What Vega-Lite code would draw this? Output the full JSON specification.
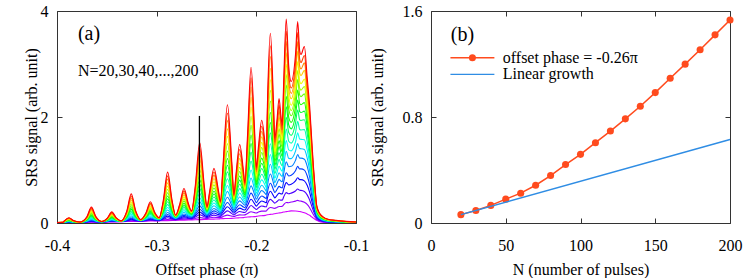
{
"$schema":"https://vega.github.io/schema/vega-lite/v6.json",
"background":"white",
"padding":{"left":22,"top":2,"right":0,"bottom":0},
"spacing":75,
"bounds":"flush",
"config":{
 "font":"Liberation Serif",
 "view":{"stroke":"#333","strokeWidth":1},
 "axis":{"labelFont":"Liberation Serif","titleFont":"Liberation Serif","labelFontSize":16,"titleFontSize":16,"titleFontWeight":"normal","labelColor":"#000","titleColor":"#000","tickSize":-5,"tickColor":"#333","tickWidth":1,"domain":false,"grid":false,"labelPadding":14,"labelFlush":false,"labelOverlap":false},
 "axisBottom":{"labelPadding":19},
 "text":{"font":"Liberation Serif","color":"#000"}
},
"datasets":{
"spectra":[
{"x":-0.4,"n20":0.005,"n30":0.005,"n40":0.006,"n50":0.006,"n60":0.006,"n70":0.007,"n80":0.007,"n90":0.007,"n100":0.008,"n110":0.008,"n120":0.008,"n130":0.008,"n140":0.009,"n150":0.009,"n160":0.009,"n170":0.009,"n180":0.01,"n190":0.01,"n200":0.01},
{"x":-0.394,"n20":0.007,"n30":0.007,"n40":0.007,"n50":0.008,"n60":0.008,"n70":0.008,"n80":0.009,"n90":0.009,"n100":0.009,"n110":0.01,"n120":0.01,"n130":0.01,"n140":0.01,"n150":0.011,"n160":0.011,"n170":0.011,"n180":0.011,"n190":0.012,"n200":0.012},
{"x":-0.3925,"n20":0.007,"n30":0.008,"n40":0.009,"n50":0.011,"n60":0.012,"n70":0.014,"n80":0.016,"n90":0.017,"n100":0.02,"n110":0.022,"n120":0.024,"n130":0.026,"n140":0.028,"n150":0.031,"n160":0.033,"n170":0.035,"n180":0.038,"n190":0.04,"n200":0.043},
{"x":-0.388,"n20":0.008,"n30":0.01,"n40":0.013,"n50":0.016,"n60":0.019,"n70":0.023,"n80":0.028,"n90":0.032,"n100":0.038,"n110":0.043,"n120":0.049,"n130":0.054,"n140":0.061,"n150":0.067,"n160":0.073,"n170":0.079,"n180":0.087,"n190":0.093,"n200":0.1},
{"x":-0.3835,"n20":0.009,"n30":0.01,"n40":0.011,"n50":0.013,"n60":0.014,"n70":0.016,"n80":0.018,"n90":0.019,"n100":0.022,"n110":0.024,"n120":0.026,"n130":0.028,"n140":0.03,"n150":0.033,"n160":0.035,"n170":0.037,"n180":0.04,"n190":0.042,"n200":0.045},
{"x":-0.377,"n20":0.011,"n30":0.012,"n40":0.012,"n50":0.013,"n60":0.013,"n70":0.014,"n80":0.014,"n90":0.014,"n100":0.015,"n110":0.015,"n120":0.015,"n130":0.016,"n140":0.016,"n150":0.016,"n160":0.017,"n170":0.017,"n180":0.017,"n190":0.018,"n200":0.018},
{"x":-0.37,"n20":0.013,"n30":0.016,"n40":0.019,"n50":0.023,"n60":0.026,"n70":0.031,"n80":0.036,"n90":0.042,"n100":0.048,"n110":0.054,"n120":0.061,"n130":0.067,"n140":0.074,"n150":0.081,"n160":0.088,"n170":0.096,"n180":0.104,"n190":0.111,"n200":0.119},
{"x":-0.3655,"n20":0.014,"n30":0.02,"n40":0.029,"n50":0.038,"n60":0.047,"n70":0.059,"n80":0.073,"n90":0.088,"n100":0.105,"n110":0.122,"n120":0.139,"n130":0.156,"n140":0.176,"n150":0.196,"n160":0.215,"n170":0.235,"n180":0.258,"n190":0.277,"n200":0.3},
{"x":-0.361,"n20":0.015,"n30":0.018,"n40":0.021,"n50":0.025,"n60":0.028,"n70":0.033,"n80":0.038,"n90":0.044,"n100":0.05,"n110":0.056,"n120":0.063,"n130":0.069,"n140":0.076,"n150":0.083,"n160":0.09,"n170":0.098,"n180":0.106,"n190":0.113,"n200":0.121},
{"x":-0.355,"n20":0.018,"n30":0.019,"n40":0.019,"n50":0.02,"n60":0.021,"n70":0.022,"n80":0.022,"n90":0.023,"n100":0.023,"n110":0.024,"n120":0.024,"n130":0.025,"n140":0.025,"n150":0.026,"n160":0.026,"n170":0.027,"n180":0.027,"n190":0.028,"n200":0.028},
{"x":-0.3495,"n20":0.02,"n30":0.022,"n40":0.025,"n50":0.028,"n60":0.03,"n70":0.034,"n80":0.037,"n90":0.041,"n100":0.046,"n110":0.05,"n120":0.054,"n130":0.059,"n140":0.064,"n150":0.069,"n160":0.073,"n170":0.078,"n180":0.084,"n190":0.088,"n200":0.094},
{"x":-0.345,"n20":0.021,"n30":0.025,"n40":0.032,"n50":0.038,"n60":0.044,"n70":0.052,"n80":0.061,"n90":0.071,"n100":0.082,"n110":0.094,"n120":0.105,"n130":0.116,"n140":0.129,"n150":0.142,"n160":0.155,"n170":0.168,"n180":0.182,"n190":0.195,"n200":0.21},
{"x":-0.3405,"n20":0.022,"n30":0.024,"n40":0.027,"n50":0.03,"n60":0.032,"n70":0.036,"n80":0.04,"n90":0.043,"n100":0.048,"n110":0.052,"n120":0.057,"n130":0.061,"n140":0.066,"n150":0.071,"n160":0.075,"n170":0.08,"n180":0.086,"n190":0.091,"n200":0.096},
{"x":-0.3355,"n20":0.025,"n30":0.026,"n40":0.027,"n50":0.028,"n60":0.029,"n70":0.03,"n80":0.031,"n90":0.032,"n100":0.033,"n110":0.034,"n120":0.035,"n130":0.035,"n140":0.036,"n150":0.037,"n160":0.037,"n170":0.038,"n180":0.039,"n190":0.039,"n200":0.04},
{"x":-0.33,"n20":0.027,"n30":0.032,"n40":0.039,"n50":0.045,"n60":0.052,"n70":0.061,"n80":0.071,"n90":0.081,"n100":0.092,"n110":0.104,"n120":0.116,"n130":0.127,"n140":0.141,"n150":0.154,"n160":0.167,"n170":0.18,"n180":0.195,"n190":0.208,"n200":0.223},
{"x":-0.3255,"n20":0.029,"n30":0.041,"n40":0.057,"n50":0.074,"n60":0.09,"n70":0.112,"n80":0.138,"n90":0.164,"n100":0.196,"n110":0.227,"n120":0.258,"n130":0.289,"n140":0.325,"n150":0.361,"n160":0.397,"n170":0.433,"n180":0.473,"n190":0.509,"n200":0.55},
{"x":-0.321,"n20":0.03,"n30":0.035,"n40":0.042,"n50":0.049,"n60":0.056,"n70":0.065,"n80":0.075,"n90":0.086,"n100":0.097,"n110":0.109,"n120":0.121,"n130":0.133,"n140":0.146,"n150":0.159,"n160":0.172,"n170":0.186,"n180":0.201,"n190":0.214,"n200":0.229},
{"x":-0.316,"n20":0.033,"n30":0.035,"n40":0.037,"n50":0.04,"n60":0.042,"n70":0.044,"n80":0.046,"n90":0.048,"n100":0.05,"n110":0.052,"n120":0.053,"n130":0.055,"n140":0.057,"n150":0.058,"n160":0.059,"n170":0.061,"n180":0.062,"n190":0.063,"n200":0.065},
{"x":-0.3108,"n20":0.036,"n30":0.041,"n40":0.047,"n50":0.054,"n60":0.06,"n70":0.067,"n80":0.075,"n90":0.083,"n100":0.092,"n110":0.102,"n120":0.11,"n130":0.119,"n140":0.129,"n150":0.139,"n160":0.148,"n170":0.158,"n180":0.169,"n190":0.178,"n200":0.189},
{"x":-0.3063,"n20":0.037,"n30":0.047,"n40":0.059,"n50":0.072,"n60":0.085,"n70":0.1,"n80":0.119,"n90":0.138,"n100":0.16,"n110":0.181,"n120":0.203,"n130":0.224,"n140":0.248,"n150":0.272,"n160":0.297,"n170":0.321,"n180":0.348,"n190":0.372,"n200":0.4},
{"x":-0.3018,"n20":0.039,"n30":0.045,"n40":0.051,"n50":0.058,"n60":0.065,"n70":0.073,"n80":0.081,"n90":0.089,"n100":0.099,"n110":0.108,"n120":0.117,"n130":0.126,"n140":0.136,"n150":0.146,"n160":0.156,"n170":0.166,"n180":0.176,"n190":0.186,"n200":0.197},
{"x":-0.2975,"n20":0.041,"n30":0.045,"n40":0.049,"n50":0.053,"n60":0.058,"n70":0.062,"n80":0.065,"n90":0.069,"n100":0.072,"n110":0.076,"n120":0.079,"n130":0.082,"n140":0.085,"n150":0.087,"n160":0.089,"n170":0.092,"n180":0.095,"n190":0.097,"n200":0.1},
{"x":-0.2935,"n20":0.044,"n30":0.055,"n40":0.069,"n50":0.083,"n60":0.097,"n70":0.113,"n80":0.132,"n90":0.151,"n100":0.173,"n110":0.195,"n120":0.217,"n130":0.238,"n140":0.262,"n150":0.285,"n160":0.309,"n170":0.333,"n180":0.359,"n190":0.383,"n200":0.41},
{"x":-0.289,"n20":0.045,"n30":0.067,"n40":0.098,"n50":0.129,"n60":0.159,"n70":0.199,"n80":0.245,"n90":0.292,"n100":0.346,"n110":0.401,"n120":0.455,"n130":0.51,"n140":0.572,"n150":0.634,"n160":0.695,"n170":0.758,"n180":0.828,"n190":0.889,"n200":0.96},
{"x":-0.2845,"n20":0.047,"n30":0.059,"n40":0.074,"n50":0.089,"n60":0.103,"n70":0.121,"n80":0.141,"n90":0.161,"n100":0.183,"n110":0.206,"n120":0.228,"n130":0.249,"n140":0.274,"n150":0.298,"n160":0.322,"n170":0.346,"n180":0.373,"n190":0.397,"n200":0.424},
{"x":-0.281,"n20":0.05,"n30":0.057,"n40":0.064,"n50":0.071,"n60":0.078,"n70":0.085,"n80":0.091,"n90":0.097,"n100":0.103,"n110":0.109,"n120":0.114,"n130":0.119,"n140":0.124,"n150":0.128,"n160":0.132,"n170":0.137,"n180":0.141,"n190":0.145,"n200":0.15},
{"x":-0.2771,"n20":0.053,"n30":0.065,"n40":0.078,"n50":0.092,"n60":0.105,"n70":0.121,"n80":0.136,"n90":0.152,"n100":0.169,"n110":0.186,"n120":0.202,"n130":0.218,"n140":0.235,"n150":0.252,"n160":0.268,"n170":0.286,"n180":0.304,"n190":0.32,"n200":0.339},
{"x":-0.2726,"n20":0.054,"n30":0.073,"n40":0.096,"n50":0.12,"n60":0.143,"n70":0.171,"n80":0.202,"n90":0.233,"n100":0.269,"n110":0.305,"n120":0.339,"n130":0.374,"n140":0.413,"n150":0.45,"n160":0.488,"n170":0.527,"n180":0.569,"n190":0.607,"n200":0.65},
{"x":-0.2681,"n20":0.056,"n30":0.07,"n40":0.085,"n50":0.1,"n60":0.116,"n70":0.133,"n80":0.149,"n90":0.166,"n100":0.185,"n110":0.203,"n120":0.22,"n130":0.237,"n140":0.255,"n150":0.272,"n160":0.289,"n170":0.308,"n180":0.326,"n190":0.343,"n200":0.363},
{"x":-0.265,"n20":0.059,"n30":0.071,"n40":0.083,"n50":0.095,"n60":0.107,"n70":0.119,"n80":0.129,"n90":0.139,"n100":0.15,"n110":0.16,"n120":0.168,"n130":0.177,"n140":0.186,"n150":0.192,"n160":0.199,"n170":0.208,"n180":0.215,"n190":0.221,"n200":0.23},
{"x":-0.2613,"n20":0.062,"n30":0.084,"n40":0.111,"n50":0.138,"n60":0.165,"n70":0.196,"n80":0.229,"n90":0.263,"n100":0.301,"n110":0.339,"n120":0.375,"n130":0.411,"n140":0.451,"n150":0.489,"n160":0.528,"n170":0.568,"n180":0.611,"n190":0.649,"n200":0.694},
{"x":-0.2568,"n20":0.064,"n30":0.104,"n40":0.156,"n50":0.208,"n60":0.26,"n70":0.324,"n80":0.399,"n90":0.474,"n100":0.561,"n110":0.648,"n120":0.734,"n130":0.819,"n140":0.917,"n150":1.012,"n160":1.108,"n170":1.206,"n180":1.314,"n190":1.41,"n200":1.52},
{"x":-0.2523,"n20":0.066,"n30":0.09,"n40":0.119,"n50":0.147,"n60":0.176,"n70":0.209,"n80":0.244,"n90":0.279,"n100":0.318,"n110":0.357,"n120":0.394,"n130":0.431,"n140":0.472,"n150":0.511,"n160":0.551,"n170":0.592,"n180":0.635,"n190":0.674,"n200":0.72},
{"x":-0.2495,"n20":0.069,"n30":0.086,"n40":0.103,"n50":0.12,"n60":0.136,"n70":0.153,"n80":0.168,"n90":0.182,"n100":0.197,"n110":0.211,"n120":0.223,"n130":0.235,"n140":0.247,"n150":0.257,"n160":0.267,"n170":0.279,"n180":0.288,"n190":0.298,"n200":0.31},
{"x":-0.247,"n20":0.072,"n30":0.096,"n40":0.121,"n50":0.147,"n60":0.173,"n70":0.202,"n80":0.229,"n90":0.258,"n100":0.288,"n110":0.318,"n120":0.346,"n130":0.374,"n140":0.404,"n150":0.431,"n160":0.458,"n170":0.489,"n180":0.518,"n190":0.546,"n200":0.578},
{"x":-0.2425,"n20":0.074,"n30":0.108,"n40":0.148,"n50":0.188,"n60":0.228,"n70":0.275,"n80":0.326,"n90":0.376,"n100":0.434,"n110":0.491,"n120":0.546,"n130":0.6,"n140":0.661,"n150":0.719,"n160":0.778,"n170":0.839,"n180":0.904,"n190":0.962,"n200":1.03},
{"x":-0.238,"n20":0.076,"n30":0.102,"n40":0.13,"n50":0.159,"n60":0.187,"n70":0.218,"n80":0.248,"n90":0.277,"n100":0.309,"n110":0.341,"n120":0.37,"n130":0.399,"n140":0.431,"n150":0.459,"n160":0.487,"n170":0.518,"n180":0.548,"n190":0.577,"n200":0.61},
{"x":-0.236,"n20":0.079,"n30":0.102,"n40":0.125,"n50":0.149,"n60":0.172,"n70":0.195,"n80":0.215,"n90":0.235,"n100":0.254,"n110":0.274,"n120":0.291,"n130":0.307,"n140":0.324,"n150":0.337,"n160":0.35,"n170":0.367,"n180":0.38,"n190":0.393,"n200":0.41},
{"x":-0.2335,"n20":0.082,"n30":0.12,"n40":0.164,"n50":0.208,"n60":0.252,"n70":0.303,"n80":0.355,"n90":0.408,"n100":0.467,"n110":0.526,"n120":0.582,"n130":0.637,"n140":0.699,"n150":0.757,"n160":0.815,"n170":0.876,"n180":0.94,"n190":0.998,"n200":1.066},
{"x":-0.229,"n20":0.085,"n30":0.148,"n40":0.228,"n50":0.308,"n60":0.388,"n70":0.485,"n80":0.596,"n90":0.708,"n100":0.836,"n110":0.965,"n120":1.09,"n130":1.215,"n140":1.357,"n150":1.495,"n160":1.634,"n170":1.776,"n180":1.932,"n190":2.07,"n200":2.23},
{"x":-0.2245,"n20":0.088,"n30":0.13,"n40":0.177,"n50":0.224,"n60":0.272,"n70":0.326,"n80":0.381,"n90":0.436,"n100":0.498,"n110":0.559,"n120":0.616,"n130":0.673,"n140":0.737,"n150":0.796,"n160":0.855,"n170":0.918,"n180":0.983,"n190":1.042,"n200":1.111},
{"x":-0.2225,"n20":0.091,"n30":0.122,"n40":0.154,"n50":0.185,"n60":0.217,"n70":0.248,"n80":0.275,"n90":0.302,"n100":0.329,"n110":0.356,"n120":0.378,"n130":0.401,"n140":0.423,"n150":0.441,"n160":0.459,"n170":0.482,"n180":0.5,"n190":0.518,"n200":0.54},
{"x":-0.2205,"n20":0.094,"n30":0.135,"n40":0.18,"n50":0.224,"n60":0.269,"n70":0.316,"n80":0.362,"n90":0.407,"n100":0.456,"n110":0.504,"n120":0.547,"n130":0.591,"n140":0.637,"n150":0.678,"n160":0.72,"n170":0.766,"n180":0.81,"n190":0.852,"n200":0.901},
{"x":-0.2167,"n20":0.098,"n30":0.154,"n40":0.217,"n50":0.281,"n60":0.345,"n70":0.417,"n80":0.491,"n90":0.566,"n100":0.649,"n110":0.732,"n120":0.809,"n130":0.887,"n140":0.972,"n150":1.052,"n160":1.132,"n170":1.218,"n180":1.306,"n190":1.386,"n200":1.48},
{"x":-0.2129,"n20":0.102,"n30":0.15,"n40":0.201,"n50":0.251,"n60":0.302,"n70":0.355,"n80":0.405,"n90":0.455,"n100":0.508,"n110":0.561,"n120":0.607,"n130":0.654,"n140":0.703,"n150":0.746,"n160":0.79,"n170":0.839,"n180":0.885,"n190":0.928,"n200":0.98},
{"x":-0.2115,"n20":0.107,"n30":0.153,"n40":0.198,"n50":0.244,"n60":0.29,"n70":0.336,"n80":0.375,"n90":0.414,"n100":0.453,"n110":0.492,"n120":0.525,"n130":0.558,"n140":0.59,"n150":0.616,"n160":0.642,"n170":0.675,"n180":0.701,"n190":0.727,"n200":0.76},
{"x":-0.2088,"n20":0.113,"n30":0.18,"n40":0.256,"n50":0.331,"n60":0.407,"n70":0.49,"n80":0.575,"n90":0.66,"n100":0.753,"n110":0.846,"n120":0.932,"n130":1.018,"n140":1.112,"n150":1.199,"n160":1.286,"n170":1.38,"n180":1.475,"n190":1.562,"n200":1.664},
{"x":-0.2053,"n20":0.117,"n30":0.213,"n40":0.33,"n50":0.447,"n60":0.563,"n70":0.7,"n80":0.849,"n90":0.999,"n100":1.168,"n110":1.337,"n120":1.499,"n130":1.66,"n140":1.842,"n150":2.015,"n160":2.189,"n170":2.371,"n180":2.565,"n190":2.738,"n200":2.94},
{"x":-0.2018,"n20":0.12,"n30":0.196,"n40":0.281,"n50":0.365,"n60":0.449,"n70":0.541,"n80":0.632,"n90":0.723,"n100":0.822,"n110":0.921,"n120":1.011,"n130":1.101,"n140":1.199,"n150":1.288,"n160":1.378,"n170":1.476,"n180":1.573,"n190":1.662,"n200":1.768},
{"x":-0.2,"n20":0.125,"n30":0.19,"n40":0.255,"n50":0.319,"n60":0.384,"n70":0.449,"n80":0.504,"n90":0.56,"n100":0.615,"n110":0.671,"n120":0.717,"n130":0.763,"n140":0.81,"n150":0.847,"n160":0.884,"n170":0.93,"n180":0.967,"n190":1.004,"n200":1.05},
{"x":-0.1979,"n20":0.132,"n30":0.207,"n40":0.285,"n50":0.363,"n60":0.441,"n70":0.523,"n80":0.598,"n90":0.673,"n100":0.751,"n110":0.83,"n120":0.898,"n130":0.967,"n140":1.039,"n150":1.101,"n160":1.163,"n170":1.235,"n180":1.301,"n190":1.363,"n200":1.438},
{"x":-0.1946,"n20":0.138,"n30":0.225,"n40":0.32,"n50":0.415,"n60":0.51,"n70":0.612,"n80":0.713,"n90":0.813,"n100":0.921,"n110":1.029,"n120":1.127,"n130":1.225,"n140":1.331,"n150":1.426,"n160":1.522,"n170":1.628,"n180":1.731,"n190":1.826,"n200":1.94},
{"x":-0.1913,"n20":0.144,"n30":0.224,"n40":0.308,"n50":0.391,"n60":0.475,"n70":0.561,"n80":0.64,"n90":0.718,"n100":0.8,"n110":0.881,"n120":0.952,"n130":1.023,"n140":1.096,"n150":1.16,"n160":1.223,"n170":1.296,"n180":1.362,"n190":1.425,"n200":1.502},
{"x":-0.19,"n20":0.15,"n30":0.227,"n40":0.304,"n50":0.381,"n60":0.458,"n70":0.535,"n80":0.601,"n90":0.667,"n100":0.733,"n110":0.799,"n120":0.854,"n130":0.909,"n140":0.964,"n150":1.008,"n160":1.052,"n170":1.107,"n180":1.151,"n190":1.195,"n200":1.25},
{"x":-0.1889,"n20":0.155,"n30":0.254,"n40":0.362,"n50":0.47,"n60":0.578,"n70":0.695,"n80":0.809,"n90":0.924,"n100":1.047,"n110":1.17,"n120":1.282,"n130":1.393,"n140":1.514,"n150":1.623,"n160":1.731,"n170":1.852,"n180":1.97,"n190":2.079,"n200":2.208},
{"x":-0.1859,"n20":0.162,"n30":0.293,"n40":0.445,"n50":0.598,"n60":0.75,"n70":0.924,"n80":1.108,"n90":1.291,"n100":1.496,"n110":1.701,"n120":1.894,"n130":2.086,"n140":2.301,"n150":2.503,"n160":2.704,"n170":2.919,"n180":3.142,"n190":3.344,"n200":3.58},
{"x":-0.1829,"n20":0.17,"n30":0.28,"n40":0.398,"n50":0.516,"n60":0.634,"n70":0.76,"n80":0.882,"n90":1.003,"n100":1.133,"n110":1.263,"n120":1.379,"n130":1.495,"n140":1.62,"n150":1.732,"n160":1.843,"n170":1.968,"n180":2.088,"n190":2.199,"n200":2.332},
{"x":-0.1815,"n20":0.176,"n30":0.276,"n40":0.375,"n50":0.475,"n60":0.575,"n70":0.674,"n80":0.76,"n90":0.845,"n100":0.931,"n110":1.016,"n120":1.087,"n130":1.159,"n140":1.23,"n150":1.287,"n160":1.344,"n170":1.415,"n180":1.472,"n190":1.529,"n200":1.6},
{"x":-0.1793,"n20":0.184,"n30":0.294,"n40":0.406,"n50":0.519,"n60":0.632,"n70":0.747,"n80":0.849,"n90":0.952,"n100":1.058,"n110":1.163,"n120":1.253,"n130":1.344,"n140":1.437,"n150":1.515,"n160":1.593,"n170":1.686,"n180":1.766,"n190":1.844,"n200":1.94},
{"x":-0.1772,"n20":0.19,"n30":0.311,"n40":0.438,"n50":0.564,"n60":0.691,"n70":0.824,"n80":0.948,"n90":1.071,"n100":1.201,"n110":1.33,"n120":1.444,"n130":1.558,"n140":1.679,"n150":1.783,"n160":1.888,"n170":2.008,"n180":2.119,"n190":2.224,"n200":2.35},
{"x":-0.1753,"n20":0.195,"n30":0.312,"n40":0.431,"n50":0.55,"n60":0.669,"n70":0.79,"n80":0.897,"n90":1.004,"n100":1.114,"n110":1.223,"n120":1.317,"n130":1.41,"n140":1.506,"n150":1.586,"n160":1.665,"n170":1.761,"n180":1.843,"n190":1.922,"n200":2.02},
{"x":-0.174,"n20":0.201,"n30":0.316,"n40":0.432,"n50":0.547,"n60":0.663,"n70":0.778,"n80":0.877,"n90":0.976,"n100":1.075,"n110":1.174,"n120":1.256,"n130":1.339,"n140":1.421,"n150":1.487,"n160":1.553,"n170":1.636,"n180":1.702,"n190":1.768,"n200":1.85},
{"x":-0.1725,"n20":0.208,"n30":0.347,"n40":0.494,"n50":0.64,"n60":0.787,"n70":0.94,"n80":1.083,"n90":1.225,"n100":1.375,"n110":1.524,"n120":1.656,"n130":1.788,"n140":1.926,"n150":2.047,"n160":2.167,"n170":2.306,"n180":2.434,"n190":2.554,"n200":2.7},
{"x":-0.17,"n20":0.215,"n30":0.386,"n40":0.574,"n50":0.761,"n60":0.949,"n70":1.153,"n80":1.355,"n90":1.556,"n100":1.774,"n110":1.992,"n120":2.191,"n130":2.389,"n140":2.604,"n150":2.8,"n160":2.995,"n170":3.211,"n180":3.423,"n190":3.618,"n200":3.85},
{"x":-0.1675,"n20":0.221,"n30":0.383,"n40":0.551,"n50":0.72,"n60":0.888,"n70":1.062,"n80":1.22,"n90":1.379,"n100":1.543,"n110":1.707,"n120":1.85,"n130":1.993,"n140":2.142,"n150":2.269,"n160":2.396,"n170":2.545,"n180":2.678,"n190":2.805,"n200":2.96},
{"x":-0.165,"n20":0.228,"n30":0.395,"n40":0.564,"n50":0.732,"n60":0.9,"n70":1.069,"n80":1.215,"n90":1.36,"n100":1.507,"n110":1.653,"n120":1.776,"n130":1.899,"n140":2.023,"n150":2.122,"n160":2.222,"n170":2.345,"n180":2.446,"n190":2.546,"n200":2.67},
{"x":-0.1607,"n20":0.226,"n30":0.413,"n40":0.605,"n50":0.796,"n60":0.987,"n70":1.182,"n80":1.355,"n90":1.529,"n100":1.706,"n110":1.883,"n120":2.035,"n130":2.186,"n140":2.342,"n150":2.472,"n160":2.602,"n170":2.757,"n180":2.891,"n190":3.021,"n200":3.18},
{"x":-0.1585,"n20":0.222,"n30":0.427,"n40":0.641,"n50":0.855,"n60":1.069,"n70":1.292,"n80":1.498,"n90":1.703,"n100":1.918,"n110":2.133,"n120":2.321,"n130":2.509,"n140":2.706,"n150":2.876,"n160":3.047,"n170":3.244,"n180":3.423,"n190":3.594,"n200":3.8},
{"x":-0.1565,"n20":0.216,"n30":0.415,"n40":0.617,"n50":0.818,"n60":1.02,"n70":1.224,"n80":1.403,"n90":1.583,"n100":1.765,"n110":1.947,"n120":2.101,"n130":2.256,"n140":2.413,"n150":2.542,"n160":2.672,"n170":2.829,"n180":2.961,"n190":3.09,"n200":3.25},
{"x":-0.1552,"n20":0.212,"n30":0.413,"n40":0.616,"n50":0.818,"n60":1.021,"n70":1.225,"n80":1.402,"n90":1.578,"n100":1.756,"n110":1.935,"n120":2.084,"n130":2.234,"n140":2.385,"n150":2.508,"n160":2.63,"n170":2.781,"n180":2.905,"n190":3.028,"n200":3.18},
{"x":-0.1518,"n20":0.192,"n30":0.39,"n40":0.593,"n50":0.795,"n60":0.998,"n70":1.204,"n80":1.388,"n90":1.572,"n100":1.761,"n110":1.949,"n120":2.11,"n130":2.271,"n140":2.437,"n150":2.575,"n160":2.714,"n170":2.879,"n180":3.022,"n190":3.16,"n200":3.33},
{"x":-0.149,"n20":0.17,"n30":0.351,"n40":0.531,"n50":0.712,"n60":0.892,"n70":1.073,"n80":1.228,"n90":1.383,"n100":1.537,"n110":1.692,"n120":1.821,"n130":1.95,"n140":2.079,"n150":2.182,"n160":2.286,"n170":2.415,"n180":2.518,"n190":2.621,"n200":2.75},
{"x":-0.1465,"n20":0.145,"n30":0.289,"n40":0.433,"n50":0.577,"n60":0.72,"n70":0.864,"n80":0.988,"n90":1.111,"n100":1.234,"n110":1.357,"n120":1.46,"n130":1.563,"n140":1.666,"n150":1.748,"n160":1.83,"n170":1.933,"n180":2.015,"n190":2.097,"n200":2.2},
{"x":-0.1445,"n20":0.115,"n30":0.219,"n40":0.323,"n50":0.427,"n60":0.531,"n70":0.635,"n80":0.724,"n90":0.813,"n100":0.902,"n110":0.991,"n120":1.065,"n130":1.14,"n140":1.214,"n150":1.273,"n160":1.333,"n170":1.407,"n180":1.466,"n190":1.526,"n200":1.6},
{"x":-0.1428,"n20":0.092,"n30":0.162,"n40":0.232,"n50":0.302,"n60":0.371,"n70":0.441,"n80":0.501,"n90":0.561,"n100":0.621,"n110":0.681,"n120":0.731,"n130":0.781,"n140":0.831,"n150":0.87,"n160":0.91,"n170":0.96,"n180":1.0,"n190":1.04,"n200":1.09},
{"x":-0.141,"n20":0.068,"n30":0.109,"n40":0.149,"n50":0.19,"n60":0.231,"n70":0.272,"n80":0.307,"n90":0.342,"n100":0.376,"n110":0.411,"n120":0.44,"n130":0.47,"n140":0.499,"n150":0.522,"n160":0.545,"n170":0.574,"n180":0.598,"n190":0.621,"n200":0.65},
{"x":-0.1395,"n20":0.05,"n30":0.07,"n40":0.091,"n50":0.111,"n60":0.131,"n70":0.152,"n80":0.169,"n90":0.186,"n100":0.204,"n110":0.221,"n120":0.236,"n130":0.25,"n140":0.265,"n150":0.276,"n160":0.288,"n170":0.302,"n180":0.314,"n190":0.326,"n200":0.34},
{"x":-0.137,"n20":0.03,"n30":0.042,"n40":0.054,"n50":0.066,"n60":0.078,"n70":0.09,"n80":0.1,"n90":0.11,"n100":0.12,"n110":0.13,"n120":0.139,"n130":0.147,"n140":0.156,"n150":0.163,"n160":0.169,"n170":0.178,"n180":0.185,"n190":0.192,"n200":0.2},
{"x":-0.1334,"n20":0.016,"n30":0.023,"n40":0.031,"n50":0.038,"n60":0.045,"n70":0.052,"n80":0.059,"n90":0.065,"n100":0.071,"n110":0.077,"n120":0.083,"n130":0.088,"n140":0.093,"n150":0.097,"n160":0.101,"n170":0.106,"n180":0.111,"n190":0.115,"n200":0.12},
{"x":-0.128,"n20":0.009,"n30":0.013,"n40":0.018,"n50":0.022,"n60":0.026,"n70":0.03,"n80":0.034,"n90":0.038,"n100":0.041,"n110":0.045,"n120":0.048,"n130":0.051,"n140":0.054,"n150":0.057,"n160":0.059,"n170":0.062,"n180":0.065,"n190":0.067,"n200":0.07},
{"x":-0.12,"n20":0.005,"n30":0.008,"n40":0.011,"n50":0.014,"n60":0.018,"n70":0.021,"n80":0.023,"n90":0.026,"n100":0.029,"n110":0.032,"n120":0.034,"n130":0.036,"n140":0.038,"n150":0.04,"n160":0.042,"n170":0.044,"n180":0.046,"n190":0.048,"n200":0.05},
{"x":-0.11,"n20":0.003,"n30":0.005,"n40":0.007,"n50":0.009,"n60":0.011,"n70":0.012,"n80":0.014,"n90":0.016,"n100":0.017,"n110":0.019,"n120":0.02,"n130":0.022,"n140":0.023,"n150":0.024,"n160":0.025,"n170":0.026,"n180":0.028,"n190":0.029,"n200":0.03},
{"x":-0.1,"n20":0.002,"n30":0.003,"n40":0.005,"n50":0.006,"n60":0.007,"n70":0.008,"n80":0.009,"n90":0.01,"n100":0.012,"n110":0.013,"n120":0.014,"n130":0.014,"n140":0.015,"n150":0.016,"n160":0.017,"n170":0.018,"n180":0.018,"n190":0.019,"n200":0.02}
],
"growth":[
{"N":20,"signal":0.063},{"N":30,"signal":0.095},{"N":40,"signal":0.133},{"N":50,"signal":0.18},{"N":60,"signal":0.225},{"N":70,"signal":0.285},{"N":80,"signal":0.358},{"N":90,"signal":0.441},{"N":100,"signal":0.518},{"N":110,"signal":0.606},{"N":120,"signal":0.694},{"N":130,"signal":0.786},{"N":140,"signal":0.881},{"N":150,"signal":0.984},{"N":160,"signal":1.092},{"N":170,"signal":1.199},{"N":180,"signal":1.307},{"N":190,"signal":1.42},{"N":200,"signal":1.532}
],
"linear":[{"N":20,"signal":0.063},{"N":200,"signal":0.63}]
},
"hconcat":[
{
 "width":299,"height":212,
 "layer":[
  {
   "data":{"name":"spectra"},
   "transform":[{"fold":["n20","n30","n40","n50","n60","n70","n80","n90","n100","n110","n120","n130","n140","n150","n160","n170","n180","n190","n200"],"as":["series","signal"]}],
   "mark":{"type":"line","interpolate":"monotone","strokeWidth":1.1,"clip":true},
   "encoding":{
    "x":{"field":"x","type":"quantitative","scale":{"domain":[-0.4,-0.1],"nice":false,"zero":false},"axis":{"orient":"bottom","values":[-0.4,-0.3,-0.2,-0.1],"title":"Offset phase (π)","titlePadding":8,"labelExpr":"replace(format(datum.value,'.1f'),'−','-')"}},
    "y":{"field":"signal","type":"quantitative","scale":{"domain":[0,4],"nice":false},"axis":{"orient":"left","values":[0,2,4],"title":"SRS signal (arb. unit)","titlePadding":1}},
    "color":{"field":"series","type":"nominal","legend":null,"scale":{"domain":["n20","n30","n40","n50","n60","n70","n80","n90","n100","n110","n120","n130","n140","n150","n160","n170","n180","n190","n200"],"range":["#d400ff","#9100ff","#4d00ff","#0900ff","#003cff","#0080ff","#00c8ff","#00fff2","#00ffae","#00ff6a","#00ff26","#1eff00","#62ff00","#a6ff00","#eeff00","#ffcc00","#ff8800","#ff4400","#ff0000"]}}
   }
  },
  {
   "data":{"values":[{"phase":-0.2571,"lo":0,"hi":2.02}]},
   "mark":{"type":"rule","color":"#000","strokeWidth":1.3},
   "encoding":{
    "x":{"field":"phase","type":"quantitative","axis":{"orient":"top","values":[-0.4,-0.3,-0.2,-0.1],"labels":false,"title":null}},
    "y":{"field":"lo","type":"quantitative","axis":{"orient":"right","values":[0,2,4],"labels":false,"title":null}},
    "y2":{"field":"hi"}
   }
  },
  {
   "data":{"values":[{"phase":-0.379,"level":3.57,"label":"(a)"}]},
   "mark":{"type":"text","align":"left","baseline":"middle","fontSize":20},
   "encoding":{"x":{"field":"phase","type":"quantitative","axis":null},"y":{"field":"level","type":"quantitative","axis":null},"text":{"field":"label"}}
  },
  {
   "data":{"values":[{"phase":-0.379,"level":2.87,"label":"N=20,30,40,...,200"}]},
   "mark":{"type":"text","align":"left","baseline":"middle","fontSize":16},
   "encoding":{"x":{"field":"phase","type":"quantitative","axis":null},"y":{"field":"level","type":"quantitative","axis":null},"text":{"field":"label"}}
  }
 ]
},
{
 "width":299,"height":212,
 "layer":[
  {
   "data":{"name":"growth"},
   "mark":{"type":"line","color":"#ff4b1e","strokeWidth":1.5,"point":{"filled":true,"size":50,"color":"#ff4b1e"}},
   "encoding":{
    "x":{"field":"N","type":"quantitative","scale":{"domain":[0,200],"nice":false},"axis":{"orient":"bottom","values":[0,50,100,150,200],"title":"N (number of pulses)","titlePadding":8}},
    "y":{"field":"signal","type":"quantitative","scale":{"domain":[0,1.6],"nice":false},"axis":{"orient":"left","values":[0,0.8,1.6],"title":"SRS signal (arb. unit)","titlePadding":17,"labelExpr":"datum.value==0?'0':format(datum.value,'.1f')"}}
   }
  },
  {
   "data":{"name":"linear"},
   "mark":{"type":"line","color":"#2f8de4","strokeWidth":1.4},
   "encoding":{
    "x":{"field":"N","type":"quantitative","axis":{"orient":"top","values":[0,50,100,150,200],"labels":false,"title":null}},
    "y":{"field":"signal","type":"quantitative","axis":{"orient":"right","values":[0,0.8,1.6],"labels":false,"title":null}}
   }
  },
  {
   "data":{"values":[{"from":13,"to":42.4,"level":1.247}]},
   "mark":{"type":"rule","color":"#ff4b1e","strokeWidth":1.5},
   "encoding":{"x":{"field":"from","type":"quantitative","axis":null},"x2":{"field":"to"},"y":{"field":"level","type":"quantitative","axis":null}}
  },
  {
   "data":{"values":[{"at":27.7,"level":1.247}]},
   "mark":{"type":"point","filled":true,"size":50,"color":"#ff4b1e","opacity":1},
   "encoding":{"x":{"field":"at","type":"quantitative","axis":null},"y":{"field":"level","type":"quantitative","axis":null}}
  },
  {
   "data":{"values":[{"from":13,"to":42.4,"level":1.122}]},
   "mark":{"type":"rule","color":"#2f8de4","strokeWidth":1.4},
   "encoding":{"x":{"field":"from","type":"quantitative","axis":null},"x2":{"field":"to"},"y":{"field":"level","type":"quantitative","axis":null}}
  },
  {
   "data":{"values":[{"at":48,"level":1.247,"label":"offset phase = -0.26π"},{"at":48,"level":1.122,"label":"Linear growth"}]},
   "mark":{"type":"text","align":"left","baseline":"middle","fontSize":16},
   "encoding":{"x":{"field":"at","type":"quantitative","axis":null},"y":{"field":"level","type":"quantitative","axis":null},"text":{"field":"label"}}
  },
  {
   "data":{"values":[{"at":13.2,"level":1.42,"label":"(b)"}]},
   "mark":{"type":"text","align":"left","baseline":"middle","fontSize":20},
   "encoding":{"x":{"field":"at","type":"quantitative","axis":null},"y":{"field":"level","type":"quantitative","axis":null},"text":{"field":"label"}}
  }
 ]
}
]
}
